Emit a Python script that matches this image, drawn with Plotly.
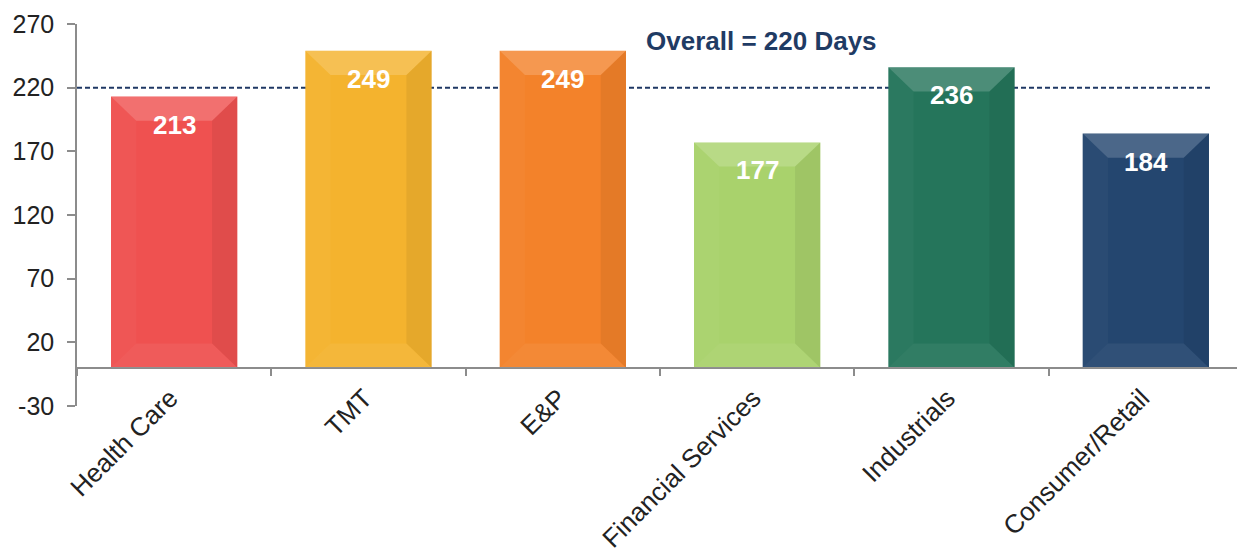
import plotly.graph_objects as go

categories = ["Health Care", "TMT", "E&P", "Financial Services", "Industrials", "Consumer/Retail"]
values = [213, 249, 249, 177, 236, 184]
bar_colors = ["#ef5150", "#f4b32e", "#f3822a", "#a9d26c", "#25755b", "#24466f"]
overall = 220
overall_label = "Overall = 220 Days"
y_ticks = [-30, 20, 70, 120, 170, 220, 270]
y_ticktext = ["-30", "20", "70", "120", "170", "220", "270"]

FONT = "Liberation Sans, Arial, sans-serif"
BAR_W = 0.65
BEVEL_X = 0.13   # category units
BEVEL_Y = 19.0   # value units

fig = go.Figure()
fig.add_trace(go.Bar(
    x=categories, y=values,
    marker=dict(color=bar_colors, line=dict(width=0)),
    width=BAR_W, showlegend=False, hoverinfo="x+y",
))

# bevel facets drawn over each bar
h = BAR_W / 2
for i, v in enumerate(values):
    facets = [
        (f"M{i-h},{v} L{i+h},{v} L{i+h-BEVEL_X},{v-BEVEL_Y} L{i-h+BEVEL_X},{v-BEVEL_Y} Z", "rgba(255,255,255,0.18)"),
        (f"M{i-h},0 L{i+h},0 L{i+h-BEVEL_X},{BEVEL_Y} L{i-h+BEVEL_X},{BEVEL_Y} Z", "rgba(255,255,255,0.06)"),
        (f"M{i-h},0 L{i-h},{v} L{i-h+BEVEL_X},{v-BEVEL_Y} L{i-h+BEVEL_X},{BEVEL_Y} Z", "rgba(255,255,255,0.03)"),
        (f"M{i+h},0 L{i+h},{v} L{i+h-BEVEL_X},{v-BEVEL_Y} L{i+h-BEVEL_X},{BEVEL_Y} Z", "rgba(0,0,0,0.06)"),
    ]
    for path, col in facets:
        fig.add_shape(type="path", path=path, xref="x", yref="y",
                      fillcolor=col, line=dict(width=0), layer="above")

for c, v in zip(categories, values):
    fig.add_annotation(x=c, y=v, text=f"<b>{v}</b>", showarrow=False,
                       yanchor="top", yshift=-11,
                       font=dict(family=FONT, size=26, color="white"))

fig.add_shape(type="line", xref="paper", yref="y", x0=0, x1=0.974,
              y0=overall, y1=overall, layer="below",
              line=dict(color="#1f3864", width=2, dash="5px,3px"))

fig.add_annotation(x=categories[3], y=overall, text=f"<b>{overall_label}</b>",
                   showarrow=False, yshift=47, xshift=4,
                   font=dict(family=FONT, size=26, color="#1f3b64"))

fig.update_layout(
    width=1237, height=548,
    margin=dict(l=69, r=2, t=16, b=150, autoexpand=False),
    paper_bgcolor="white", plot_bgcolor="white",
    bargap=0.35,
    font=dict(family=FONT, size=25, color="#222222"),
    xaxis=dict(
        anchor="free", position=30 / 300, automargin=False,
        showline=True, linecolor="#8c8c8c", linewidth=1.5,
        ticks="outside", tickson="boundaries", ticklen=7, tickcolor="#8c8c8c", tickwidth=1.5,
        tickangle=-45, tickfont=dict(family=FONT, size=26, color="#222222"),
        ticklabelstandoff=4, ticklabelshift=-4,
        showgrid=False, zeroline=False,
    ),
    yaxis=dict(
        range=[-30, 270], tickvals=y_ticks, ticktext=y_ticktext, automargin=False,
        showline=True, linecolor="#8c8c8c", linewidth=1.5,
        ticks="outside", ticklen=8, tickcolor="#8c8c8c", tickwidth=1.5,
        tickfont=dict(family=FONT, size=25, color="#222222"),
        ticklabelstandoff=8,
        showgrid=False, zeroline=False,
    ),
)

fig.write_html("out.html")
